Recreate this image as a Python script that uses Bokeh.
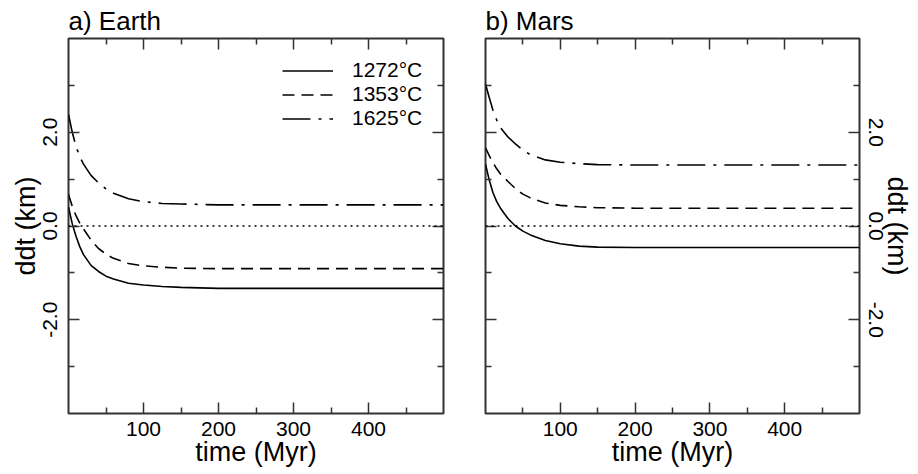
import math
from bokeh.plotting import figure
from bokeh.layouts import row
from bokeh.models import LinearAxis, FixedTicker, Span, PrintfTickFormatter, Range1d
from bokeh.embed import file_html
from bokeh.resources import INLINE

# ---- data ----
time_myr = [0, 5, 10, 15, 20, 30, 40, 50, 60, 80, 100, 125, 150, 200, 300, 400, 500]

earth_1272 = [0.40, 0.05, -0.22, -0.44, -0.61, -0.84, -0.97, -1.07, -1.13, -1.22, -1.26, -1.29, -1.31, -1.33, -1.33, -1.33, -1.33]
earth_1353 = [0.67, 0.42, 0.22, 0.06, -0.06, -0.30, -0.48, -0.60, -0.69, -0.80, -0.85, -0.88, -0.90, -0.91, -0.91, -0.91, -0.91]
earth_1625 = [2.38, 2.00, 1.70, 1.48, 1.32, 1.08, 0.92, 0.79, 0.70, 0.58, 0.52, 0.48, 0.47, 0.45, 0.45, 0.45, 0.45]

mars_1272 = [1.32, 0.98, 0.71, 0.52, 0.38, 0.16, 0.00, -0.11, -0.19, -0.31, -0.38, -0.43, -0.45, -0.46, -0.46, -0.46, -0.46]
mars_1353 = [1.67, 1.50, 1.35, 1.22, 1.11, 0.95, 0.80, 0.68, 0.60, 0.49, 0.44, 0.41, 0.39, 0.38, 0.38, 0.38, 0.38]
mars_1625 = [3.03, 2.74, 2.47, 2.26, 2.10, 1.90, 1.75, 1.62, 1.52, 1.41, 1.36, 1.33, 1.31, 1.30, 1.30, 1.30, 1.30]

series_labels = ["1272°C", "1353°C", "1625°C"]
x_major = [100, 200, 300, 400]
x_minor = [50, 150, 250, 350, 450]
y_major = [-2, 0, 2]
y_minor = [-3, -1, 1, 3]

# ---- styles ----
FONT = "Liberation Sans"
FRAME = "#333333"
dashes = ["solid", "12 7", "28 8 3 8"]


def style_axis(ax, ticker, show_labels):
    ax.ticker = ticker
    ax.axis_line_color = None
    ax.major_tick_in = 11
    ax.major_tick_out = 0
    ax.minor_tick_in = 6
    ax.minor_tick_out = 0
    ax.major_tick_line_color = FRAME
    ax.minor_tick_line_color = FRAME
    ax.major_tick_line_width = 1.5
    ax.minor_tick_line_width = 1.5
    ax.major_label_text_font = FONT
    ax.axis_label_text_font = FONT
    ax.axis_label_text_font_style = "normal"
    ax.major_label_text_color = "black"
    ax.axis_label_text_color = "black"
    if not show_labels:
        ax.major_label_overrides = {t: "" for t in ticker.ticks}
        ax.major_label_standoff = 0


def make_panel(title, side, width, border_left, border_right, series):
    p = figure(width=width, height=474, x_range=Range1d(0, 500), y_range=Range1d(-4, 4),
               output_backend="svg", toolbar_location=None, y_axis_location=side,
               min_border_left=border_left, min_border_right=border_right,
               min_border_top=38, min_border_bottom=61)
    p.title.text = title
    p.title.text_font = FONT
    p.title.text_font_size = "26px"
    p.title.text_font_style = "normal"
    p.title.text_color = "black"
    p.title.align = "left"
    p.title.offset = 0
    p.title.standoff = 5
    p.grid.visible = False
    p.outline_line_color = FRAME
    p.outline_line_width = 2
    p.background_fill_color = "white"
    p.border_fill_color = "white"

    xt = FixedTicker(ticks=x_major, minor_ticks=x_minor)
    yt = FixedTicker(ticks=y_major, minor_ticks=y_minor)

    xb = p.xaxis[0]
    style_axis(xb, xt, True)
    xb.axis_label = "time (Myr)"
    xb.major_label_text_font_size = "21px"
    xb.axis_label_text_font_size = "27px"
    xb.major_label_standoff = 8
    xb.axis_label_standoff = -2

    ya = p.yaxis[0]
    style_axis(ya, yt, True)
    ya.formatter = PrintfTickFormatter(format="%.1f")
    ya.axis_label = "ddt (km)"
    ya.major_label_text_font_size = "21px"
    ya.axis_label_text_font_size = "27px"
    ya.major_label_orientation = "parallel"
    if side == "left":
        ya.major_label_standoff = 12
        ya.axis_label_standoff = -1
    else:
        ya.major_label_standoff = 9
        ya.axis_label_standoff = -4

    top = LinearAxis()
    style_axis(top, FixedTicker(ticks=x_major, minor_ticks=x_minor), False)
    p.add_layout(top, "above")

    other = LinearAxis()
    style_axis(other, FixedTicker(ticks=y_major, minor_ticks=y_minor), False)
    p.add_layout(other, "right" if side == "left" else "left")

    zero = Span(location=0, dimension="width", line_color="black", line_width=1.5, line_dash="2 4")
    p.add_layout(zero)

    for ys, lab, dash in zip(series, series_labels, dashes):
        kw = {}
        if title.startswith("a"):
            kw["legend_label"] = lab
        p.line(time_myr, ys, line_color="black", line_width=1.6, line_dash=dash, **kw)
    return p


p1 = make_panel("a) Earth", "left", 464, 68, 21, [earth_1272, earth_1353, earth_1625])
p2 = make_panel("b) Mars", "right", 454, 21, 59, [mars_1272, mars_1353, mars_1625])

lg = p1.legend[0]
lg.location = (214, 283)
lg.border_line_color = None
lg.background_fill_alpha = 0
lg.padding = 0
lg.margin = 0
lg.spacing = 0
lg.label_height = 23
lg.glyph_height = 23
lg.glyph_width = 51
lg.label_standoff = 19
lg.label_text_font = FONT
lg.label_text_font_size = "21px"
lg.label_text_color = "black"

layout = row(p1, p2)

with open("out.html", "w") as f:
    f.write(file_html(layout, INLINE))
